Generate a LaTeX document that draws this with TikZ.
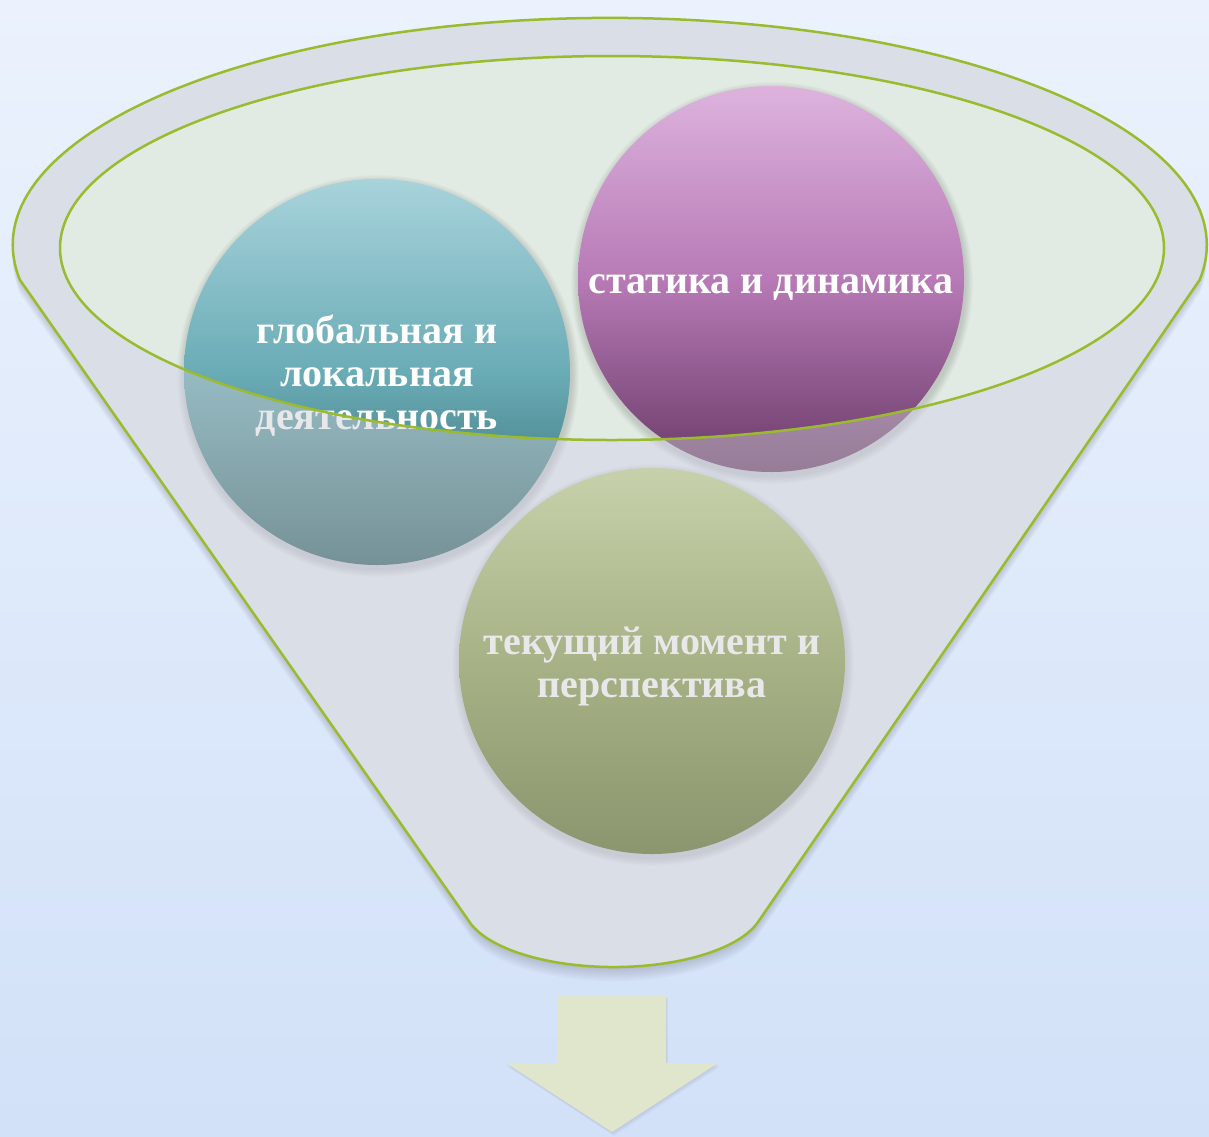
\documentclass[tikz,border=0pt]{standalone}
\usepackage{fontspec}
\setmainfont{Liberation Serif}
\definecolor{bgtop}{HTML}{EBF2FD}
\definecolor{bgbot}{HTML}{D2E1F8}
\definecolor{bodybase}{HTML}{E6EDF9}
\definecolor{bodygrey}{HTML}{CDCDD2}
\definecolor{innerfill}{HTML}{E1EAE3}
\definecolor{rimgreen}{HTML}{9BBB2F}
\definecolor{tealtop}{HTML}{A8D3DB}
\definecolor{tealmid}{HTML}{6AACB6}
\definecolor{tealbot}{HTML}{2F6268}
\definecolor{purptop}{HTML}{DDB3DD}
\definecolor{purpmid}{HTML}{B77AB6}
\definecolor{purpbot}{HTML}{6A3B68}
\definecolor{olivetop}{HTML}{C2D68D}
\definecolor{olivemid}{HTML}{889C48}
\definecolor{olivebot}{HTML}{56691E}
\definecolor{arrowfill}{HTML}{DFE6CB}
\tikzset{
  funnelp/.style={insert path={(20,280) arc[start angle=171.1, end angle=368.9, x radius=597, y radius=227] -- (758,922) arc[start angle=15.9, end angle=166, x radius=150, y radius=62] -- cycle}},
  ball/.style={circle, minimum size=386pt, inner sep=0pt},
  balltext/.style={inner sep=0pt, text=white, font=\fontsize{40}{43}\selectfont\bfseries, align=center},
  rim/.style={draw=rimgreen, line width=2.5pt},
  shadowlayer/.style={fill=black, fill opacity=0.025},
}
\begin{document}
\begin{tikzpicture}[x=1pt,y=-1pt]
\useasboundingbox (0,0) rectangle (1209,1136);
% background
\shade[top color=bgtop, bottom color=bgbot] (0,0) rectangle (1209,1136);
% funnel shadow
\foreach \k in {2,4,...,14} {
  \fill[shadowlayer, shift={(0,\k)}, funnelp];
}
% funnel base (covers shadow)
\fill[bodybase, funnelp];
% inner ellipse
\fill[innerfill] (612,248) ellipse [x radius=552, y radius=192];
% circle shadows
\foreach \cx/\cy in {377/372, 771/279, 652/661} {
  \foreach \k in {1,...,6} {
    \fill[shadowlayer] (\cx+1,\cy+4) circle [radius=193+1.3*\k];
  }
}
% circles
\node[ball, top color=tealtop, bottom color=tealbot, middle color=tealmid] (teal) at (377,372) {};
\node[ball, top color=purptop, bottom color=purpbot, middle color=purpmid] (purple) at (771,279) {};
\node[ball, top color=olivetop, bottom color=olivebot, middle color=olivemid] (olive) at (652,661) {};
\node[balltext, yshift=-4pt] (tealtxt) at (teal) {глобальная и\\локальная\\деятельность};
\node[balltext, yshift=-9pt] (purpletxt) at (purple) {статика и динамика};
\node[balltext, yshift=-5pt] (olivetxt) at (olive) {текущий момент и\\перспектива};
% translucent funnel body over circles
\fill[bodygrey, fill opacity=0.45, even odd rule, funnelp] (612,248) ellipse [x radius=552, y radius=192];
% outlines
\draw[rim, funnelp];
\draw[rim] (612,248) ellipse [x radius=552, y radius=192];
% arrow
\foreach \k in {1,...,4} {
  \fill[shadowlayer, shift={(0.5*\k,\k)}] (558,995) -- (666,995) -- (666,1063) -- (718,1063) -- (612,1132) -- (506,1063) -- (558,1063) -- cycle;
}
\fill[arrowfill] (558,995) -- (666,995) -- (666,1063) -- (718,1063) -- (612,1132) -- (506,1063) -- (558,1063) -- cycle;
\end{tikzpicture}
\end{document}
